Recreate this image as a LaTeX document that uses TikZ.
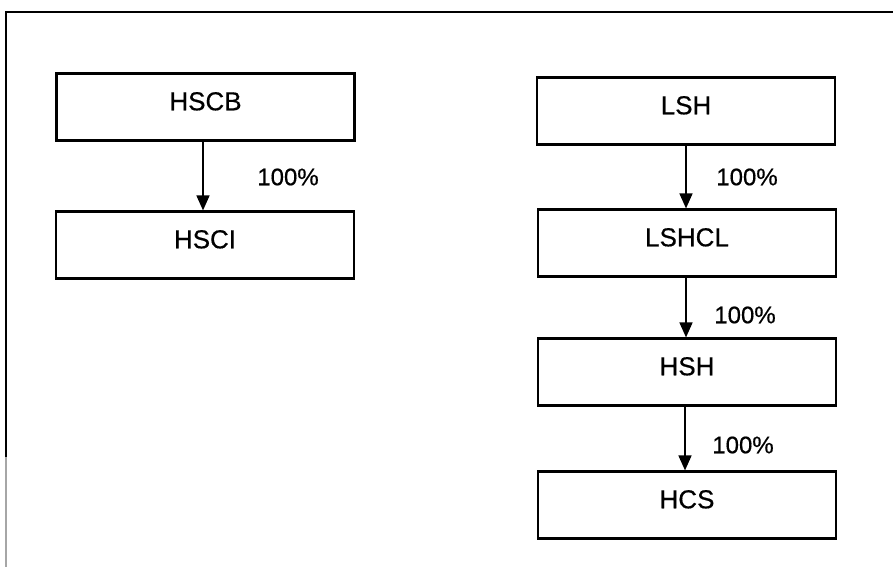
\documentclass[tikz,border=0pt]{standalone}
\usepackage{fontspec}
\setmainfont{Liberation Sans}
\newfontfamily\scanfont[FakeBold=0.5]{Liberation Sans}
\usetikzlibrary{arrows.meta}
\begin{document}
\begin{tikzpicture}[x=1pt,y=-1pt,
  entity/.style={draw,line width=2.2pt,minimum width=298pt,minimum height=67pt,inner sep=0pt,text height=20pt,text depth=13.4pt,font=\scanfont\fontsize{26}{30}\selectfont},
  own/.style={draw,line width=1.6pt,-{Triangle[length=15pt,width=13pt]}},
  pct/.style={font=\scanfont\fontsize{24}{28}\selectfont}]
\useasboundingbox (0,0) rectangle (893,567);
\fill[white] (0,0) rectangle (893,567);
\draw[line width=1.8pt] (6,457) -- (6,12) -- (893,12);
\draw[line width=1.2pt,gray!70] (6,457) -- (6,567);
\node[entity] (hscb) at (205.5,107) {HSCB};
\node[entity] (hsci) at (205,245) {HSCI};
\node[entity] (lsh) at (686,111) {LSH};
\node[entity] (lshcl) at (687,243) {LSHCL};
\node[entity] (hsh) at (687,372) {HSH};
\node[entity] (hcs) at (687,505) {HCS};
\draw[own] (hscb.south -| 203,0) -- (hsci.north -| 203,0);
\draw[own] (lsh.south -| 686,0) -- (lshcl.north -| 686,0);
\draw[own] (lshcl.south -| 686,0) -- (hsh.north -| 686,0);
\draw[own] (hsh.south -| 685,0) -- (hcs.north -| 685,0);
\node[pct] (p1) at (288,177) {100\%};
\node[pct] (p2) at (747,177) {100\%};
\node[pct] (p3) at (745,315) {100\%};
\node[pct] (p4) at (743,445) {100\%};
\end{tikzpicture}
\end{document}
